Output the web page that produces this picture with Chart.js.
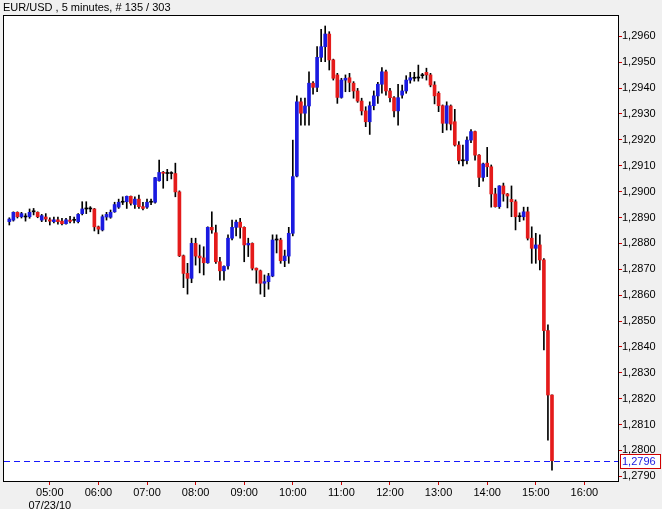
<!DOCTYPE html>
<html>
<head>
<meta charset="utf-8">
<style>
html,body{margin:0;padding:0;background:#f0f0f0;}
#wrap{position:relative;width:662px;height:509px;overflow:hidden;}
canvas{display:block;}
</style>
<script src="https://cdn.jsdelivr.net/npm/chart.js@4.4.1/dist/chart.umd.min.js"></script>
</head>
<body>
<div id="wrap"><canvas id="c" width="662" height="509"></canvas></div>
<script>
// ---- Data ----
const chartTitle = 'EUR/USD , 5 minutes, # 135 / 303';
const dateLabel = '07/23/10';
const firstBarTime = '04:10';
const barMinutes = 5;
const hourLabels = ['05:00','06:00','07:00','08:00','09:00','10:00','11:00','12:00','13:00','14:00','15:00','16:00'];
const priceTickLabels = ['1,2790','1,2800','1,2810','1,2820','1,2830','1,2840','1,2850','1,2860','1,2870','1,2880',
  '1,2890','1,2900','1,2910','1,2920','1,2930','1,2940','1,2950','1,2960'];
const lastPrice = 1.2796;
const lastPriceLabel = '1,2796';

const opens = [
1.28884,1.28890,1.28920,1.28903,1.28902,1.28903,1.28922,1.28920,1.28890,1.28902,
1.28891,1.28884,1.28891,1.28886,1.28876,1.28890,1.28889,1.28884,1.28915,1.28933,
1.28933,1.28933,1.28864,1.28852,1.28902,1.28901,1.28922,1.28940,1.28959,1.28961,
1.28982,1.28950,1.28971,1.28942,1.28940,1.28959,1.28959,1.29042,1.29074,1.29070,
1.29070,1.29070,1.28999,1.28752,1.28684,1.28665,1.28800,1.28751,1.28744,1.28725,
1.28862,1.28841,1.28729,1.28694,1.28713,1.28820,1.28862,1.28882,1.28862,1.28794,
1.28800,1.28704,1.28694,1.28646,1.28652,1.28674,1.28813,1.28813,1.28733,1.28751,
1.28839,1.29060,1.29347,1.29303,1.29331,1.29419,1.29403,1.29519,1.29560,1.29609,
1.29509,1.29451,1.29364,1.29431,1.29440,1.29419,1.29389,1.29350,1.29312,1.29270,
1.29332,1.29370,1.29415,1.29463,1.29389,1.29363,1.29312,1.29373,1.29389,1.29431,
1.29438,1.29439,1.29448,1.29461,1.29451,1.29412,1.29380,1.29332,1.29264,1.29331,
1.29270,1.29180,1.29119,1.29120,1.29199,1.29232,1.29141,1.29055,1.29110,1.29096,
1.28991,1.28942,1.29022,1.28991,1.28970,1.28961,1.28903,1.28903,1.28922,1.28820,
1.28781,1.28794,1.28736,1.28463,1.28214
];
const highs = [
1.28899,1.28922,1.28922,1.28920,1.28915,1.28933,1.28935,1.28922,1.28912,1.28915,
1.28899,1.28902,1.28902,1.28897,1.28897,1.28905,1.28902,1.28915,1.28961,1.28961,
1.28942,1.28935,1.28867,1.28910,1.28920,1.28929,1.28959,1.28971,1.28980,1.28983,
1.28983,1.28980,1.28987,1.28959,1.28971,1.28971,1.29055,1.29122,1.29078,1.29086,
1.29077,1.29110,1.29003,1.28755,1.28723,1.28820,1.28820,1.28794,1.28787,1.28864,
1.28922,1.28871,1.28746,1.28713,1.28833,1.28890,1.28890,1.28897,1.28864,1.28820,
1.28802,1.28705,1.28697,1.28678,1.28684,1.28833,1.28833,1.28820,1.28774,1.28862,
1.29199,1.29370,1.29361,1.29361,1.29463,1.29425,1.29560,1.29627,1.29640,1.29618,
1.29512,1.29457,1.29438,1.29451,1.29457,1.29425,1.29399,1.29361,1.29328,1.29347,
1.29389,1.29422,1.29479,1.29470,1.29399,1.29367,1.29415,1.29412,1.29448,1.29461,
1.29461,1.29489,1.29457,1.29477,1.29457,1.29425,1.29386,1.29335,1.29347,1.29335,
1.29318,1.29193,1.29180,1.29212,1.29240,1.29234,1.29143,1.29110,1.29171,1.29103,
1.29013,1.29023,1.29033,1.28993,1.29022,1.28968,1.28918,1.28940,1.28940,1.28864,
1.28839,1.28833,1.28741,1.28485,1.28215
];
const lows = [
1.28871,1.28886,1.28898,1.28898,1.28886,1.28897,1.28910,1.28899,1.28884,1.28884,
1.28871,1.28879,1.28874,1.28871,1.28874,1.28879,1.28879,1.28879,1.28910,1.28915,
1.28922,1.28848,1.28837,1.28848,1.28890,1.28897,1.28920,1.28935,1.28950,1.28935,
1.28948,1.28935,1.28935,1.28929,1.28935,1.28950,1.28955,1.29040,1.29013,1.29042,
1.29049,1.28980,1.28749,1.28629,1.28604,1.28648,1.28716,1.28686,1.28678,1.28723,
1.28839,1.28723,1.28658,1.28658,1.28700,1.28813,1.28829,1.28820,1.28729,1.28749,
1.28697,1.28646,1.28604,1.28594,1.28623,1.28671,1.28763,1.28723,1.28710,1.28723,
1.28829,1.29057,1.29257,1.29257,1.29257,1.29377,1.29386,1.29502,1.29502,1.29470,
1.29431,1.29341,1.29361,1.29386,1.29386,1.29361,1.29345,1.29296,1.29251,1.29221,
1.29316,1.29341,1.29380,1.29373,1.29347,1.29289,1.29257,1.29361,1.29380,1.29419,
1.29427,1.29427,1.29438,1.29431,1.29405,1.29339,1.29309,1.29228,1.29238,1.29238,
1.29176,1.29107,1.29099,1.29107,1.29189,1.29122,1.29019,1.29040,1.29058,1.28940,
1.28940,1.28935,1.28963,1.28937,1.28903,1.28852,1.28884,1.28890,1.28813,1.28723,
1.28723,1.28697,1.28388,1.28040,1.27924
];
const closes = [
1.28894,1.28920,1.28903,1.28915,1.28902,1.28920,1.28922,1.28903,1.28907,1.28894,
1.28886,1.28891,1.28884,1.28876,1.28891,1.28885,1.28889,1.28912,1.28933,1.28933,
1.28934,1.28864,1.28855,1.28903,1.28912,1.28920,1.28950,1.28959,1.28960,1.28982,
1.28955,1.28971,1.28942,1.28935,1.28959,1.28960,1.29054,1.29074,1.29071,1.29070,
1.29071,1.28999,1.28752,1.28684,1.28665,1.28800,1.28751,1.28744,1.28725,1.28862,
1.28852,1.28729,1.28694,1.28711,1.28820,1.28862,1.28882,1.28862,1.28794,1.28800,
1.28704,1.28697,1.28646,1.28652,1.28674,1.28813,1.28814,1.28733,1.28751,1.28839,
1.29058,1.29347,1.29303,1.29331,1.29419,1.29403,1.29519,1.29560,1.29609,1.29509,
1.29438,1.29364,1.29431,1.29438,1.29422,1.29389,1.29350,1.29312,1.29270,1.29332,
1.29370,1.29415,1.29463,1.29389,1.29363,1.29312,1.29363,1.29389,1.29431,1.29440,
1.29439,1.29440,1.29449,1.29451,1.29412,1.29370,1.29332,1.29264,1.29332,1.29261,
1.29180,1.29120,1.29120,1.29199,1.29232,1.29141,1.29055,1.29107,1.29096,1.28991,
1.28942,1.29022,1.28991,1.28983,1.28961,1.28903,1.28904,1.28922,1.28820,1.28781,
1.28794,1.28736,1.28463,1.28214,1.27960
];

// ---- Styles ----
const UP = '#1a1ae0', DOWN = '#e41b1b', DOJI = '#000000';
const toMinutes = s => { const p = s.split(':'); return (+p[0]) * 60 + (+p[1]); };
const parsePrice = s => parseFloat(s.replace(',', '.'));
const t0 = toMinutes(firstBarTime);
const xOf = i => t0 + i * barMinutes;

const bodyData = opens.map((o, i) => ({ x: xOf(i), y: [o, closes[i]] }));
const wickData = lows.map((l, i) => ({ x: xOf(i), y: [l, highs[i]] }));
const bodyColors = opens.map((o, i) => {
  const d = closes[i] - o;
  if (Math.abs(d) < 0.000025) return DOJI;
  return d > 0 ? UP : DOWN;
});

const FONT = "'Liberation Sans', Arial, sans-serif";
Chart.defaults.font.family = FONT;
Chart.defaults.font.size = 11;
Chart.defaults.color = '#000';

const overlay = {
  id: 'overlay',
  beforeDraw(chart) {
    const { ctx, chartArea: a } = chart;
    ctx.save();
    ctx.fillStyle = '#f0f0f0';
    ctx.fillRect(0, 0, chart.width, chart.height);
    ctx.fillStyle = '#ffffff';
    ctx.fillRect(a.left, a.top, a.right - a.left, a.bottom - a.top);
    ctx.restore();
  },
  afterDraw(chart) {
    const { ctx, chartArea: a, scales } = chart;
    ctx.save();
    // plot frame
    ctx.strokeStyle = '#000';
    ctx.lineWidth = 1;
    ctx.strokeRect(a.left + 0.5, a.top + 0.5, a.right - a.left, a.bottom - a.top);
    // last price dashed line
    const y = Math.round(scales.y.getPixelForValue(lastPrice)) + 0.5;
    ctx.strokeStyle = '#1818ff';
    ctx.setLineDash([6, 4]);
    ctx.beginPath();
    ctx.moveTo(a.left + 1, y);
    ctx.lineTo(a.right, y);
    ctx.stroke();
    ctx.setLineDash([]);
    // price box
    ctx.fillStyle = '#ffffff';
    ctx.fillRect(a.right + 2, y - 7, 40, 14);
    ctx.strokeStyle = '#d00000';
    ctx.strokeRect(a.right + 2.5, y - 7, 40, 14);
    ctx.fillStyle = '#1818e0';
    ctx.font = '11px ' + FONT;
    ctx.textBaseline = 'middle';
    ctx.textAlign = 'left';
    ctx.fillText(lastPriceLabel, a.right + 4, y + 0.5);
    // title
    ctx.fillStyle = '#000';
    ctx.font = '11px ' + FONT;
    ctx.fillText(chartTitle, 3, 8);
    ctx.restore();
  }
};

new Chart(document.getElementById('c'), {
  type: 'bar',
  data: {
    datasets: [
      { label: 'body', data: bodyData, backgroundColor: bodyColors, barThickness: 3, minBarLength: 1, order: 0, grouped: false, borderWidth: 0 },
      { label: 'wick', data: wickData, backgroundColor: '#000000', barThickness: 1, order: 1, grouped: false, borderWidth: 0 }
    ]
  },
  plugins: [overlay],
  options: {
    responsive: false,
    animation: false,
    devicePixelRatio: 1,
    layout: { padding: { left: 3, top: 15, right: 0, bottom: 0 } },
    plugins: { legend: { display: false }, tooltip: { enabled: false }, title: { display: false } },
    scales: {
      x: {
        type: 'linear',
        min: 242.2,
        max: 1001.5,
        offset: false,
        grid: { offset: false, drawOnChartArea: false, drawTicks: true, tickLength: 4, color: '#d00000' },
        border: { display: false },
        afterBuildTicks: s => { s.ticks = hourLabels.map(h => ({ value: toMinutes(h) })); },
        afterFit: s => { s.height = 28; },
        ticks: {
          autoSkip: false, maxRotation: 0, minRotation: 0, padding: 1,
          font: { size: 11, family: FONT, lineHeight: 1.2 },
          callback: (v, i) => i === 0 ? [hourLabels[0], dateLabel] : hourLabels[i]
        }
      },
      y: {
        type: 'linear',
        position: 'right',
        min: 1.278818,
        max: 1.296825,
        grid: { drawOnChartArea: false, drawTicks: true, tickLength: 4, color: '#d00000' },
        border: { display: false },
        afterBuildTicks: s => { s.ticks = priceTickLabels.map(l => ({ value: parsePrice(l) })); },
        afterFit: s => { s.width = 44; },
        ticks: {
          padding: 0,
          font: { size: 11, family: FONT },
          callback: (v, i) => priceTickLabels[i]
        }
      }
    }
  }
});
</script>
</body>
</html>
